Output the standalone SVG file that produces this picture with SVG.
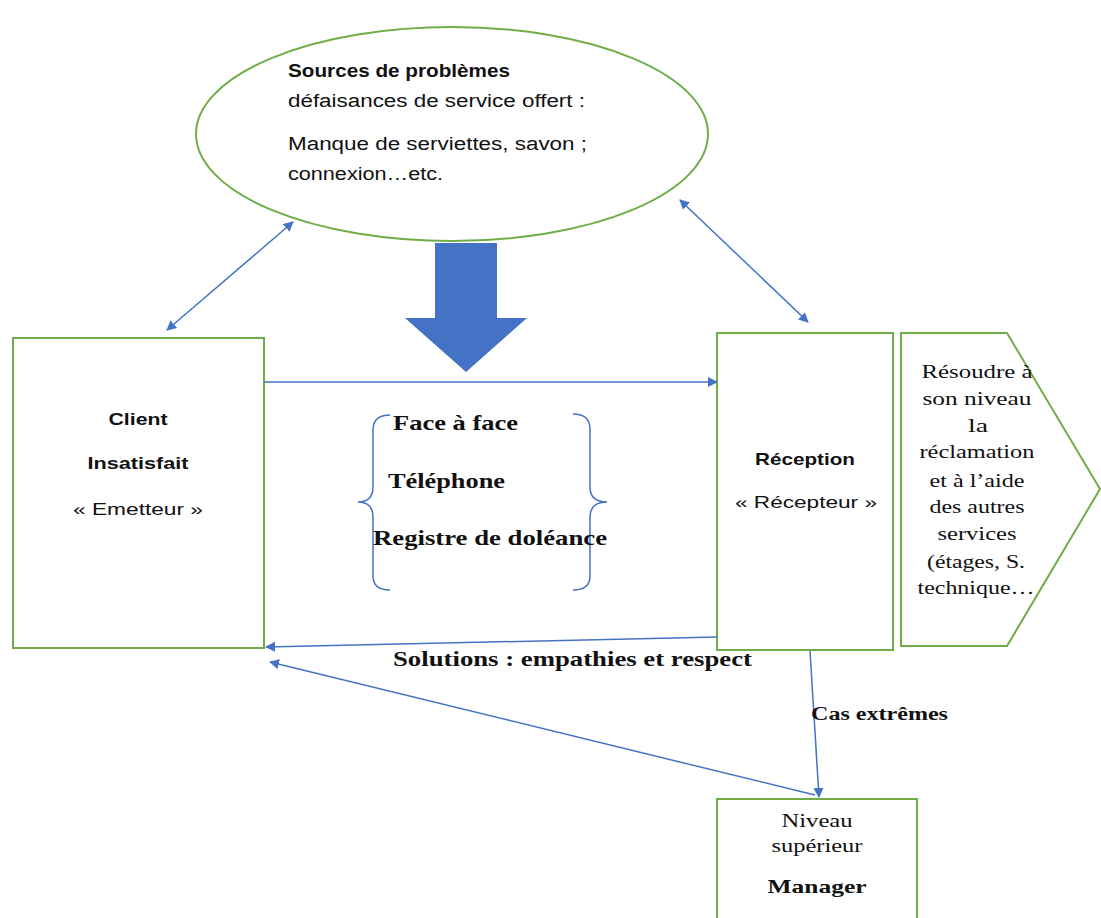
<svg xmlns="http://www.w3.org/2000/svg" width="1101" height="918" viewBox="0 0 1101 918">
<defs>
<marker id="ah" viewBox="0 0 10 10" refX="9" refY="5" markerWidth="10" markerHeight="10" markerUnits="userSpaceOnUse" orient="auto-start-reverse">
<path d="M0,0 L10,5 L0,10 z" fill="#4472C4"/>
</marker>
<style>
.box{fill:#fff;stroke:#70AD47;stroke-width:2}
.con{fill:none;stroke:#4472C4;stroke-width:1.5}
.sans{font-family:"Liberation Sans",Arial,sans-serif;fill:#111}
.serif{font-family:"Liberation Serif","Times New Roman",serif;fill:#111}
.b{font-weight:bold}
text{lengthAdjust:spacingAndGlyphs}
</style>
</defs>
<rect width="1101" height="918" fill="#fff"/>

<g id="sources">
<ellipse class="box" cx="452" cy="134" rx="256" ry="107"/>
<text class="sans b" x="288" y="77" font-size="18" textLength="222" lengthAdjust="spacingAndGlyphs">Sources de problèmes</text>
<text class="sans" x="288" y="107" font-size="18" textLength="297" lengthAdjust="spacingAndGlyphs">défaisances de service offert :</text>
<text class="sans" x="288" y="150" font-size="18" textLength="299" lengthAdjust="spacingAndGlyphs">Manque de serviettes, savon ;</text>
<text class="sans" x="288" y="180" font-size="18" textLength="155" lengthAdjust="spacingAndGlyphs">connexion…etc.</text>
</g>

<g id="bigarrow">
<polygon points="435,243 497,243 497,318 527,318 466,372 405,318 435,318" fill="#4472C4"/>
</g>

<g id="client">
<rect class="box" x="13" y="338" width="251" height="310"/>
<text class="sans b" x="138" y="425" font-size="17" text-anchor="middle" textLength="59" lengthAdjust="spacingAndGlyphs">Client</text>
<text class="sans b" x="138" y="469" font-size="17" text-anchor="middle" textLength="101" lengthAdjust="spacingAndGlyphs">Insatisfait</text>
<text class="sans" x="138" y="515" font-size="17" text-anchor="middle" textLength="130" lengthAdjust="spacingAndGlyphs">« Emetteur »</text>
</g>

<g id="reception">
<rect class="box" x="717" y="333" width="176" height="317"/>
<text class="sans b" x="805" y="465" font-size="17" text-anchor="middle" textLength="100" lengthAdjust="spacingAndGlyphs">Réception</text>
<text class="sans" x="806" y="508" font-size="17" text-anchor="middle" textLength="142" lengthAdjust="spacingAndGlyphs">« Récepteur »</text>
</g>

<g id="resoudre">
<polygon class="box" points="901,333 1007,333 1100,489 1007,646 901,646"/>
<g class="serif" font-size="19" text-anchor="middle">
<text x="977" y="378" textLength="111" lengthAdjust="spacingAndGlyphs">Résoudre à</text>
<text x="977" y="405" textLength="109" lengthAdjust="spacingAndGlyphs">son niveau</text>
<text x="978" y="432" textLength="20" lengthAdjust="spacingAndGlyphs">la</text>
<text x="977" y="458" textLength="115" lengthAdjust="spacingAndGlyphs">réclamation</text>
<text x="977" y="487" textLength="95" lengthAdjust="spacingAndGlyphs">et à l’aide</text>
<text x="977" y="513" textLength="95" lengthAdjust="spacingAndGlyphs">des autres</text>
<text x="977" y="540" textLength="79" lengthAdjust="spacingAndGlyphs">services</text>
<text x="976" y="568" textLength="98" lengthAdjust="spacingAndGlyphs">(étages, S.</text>
<text x="976" y="594" textLength="117" lengthAdjust="spacingAndGlyphs">technique…</text>
</g>
</g>

<g id="canaux">
<path class="con" d="M390,415 Q373,415 373,430 L373,487 Q373,502 358,502 Q373,502 373,517 L373,576 Q373,590 390,590"/>
<path class="con" d="M573,414 Q590,414 590,429 L590,487 Q590,502 607,502 Q590,502 590,517 L590,576 Q590,590 573,590"/>
<text class="serif b" x="393" y="430" font-size="22" textLength="125" lengthAdjust="spacingAndGlyphs">Face à face</text>
<text class="serif b" x="388" y="488" font-size="22" textLength="117" lengthAdjust="spacingAndGlyphs">Téléphone</text>
<text class="serif b" x="373" y="545" font-size="22" textLength="234" lengthAdjust="spacingAndGlyphs">Registre de doléance</text>
</g>

<g id="manager">
<rect class="box" x="717" y="799" width="200" height="130"/>
<text class="serif" x="817" y="827" font-size="18" text-anchor="middle" textLength="71" lengthAdjust="spacingAndGlyphs">Niveau</text>
<text class="serif" x="817" y="852" font-size="18" text-anchor="middle" textLength="91" lengthAdjust="spacingAndGlyphs">supérieur</text>
<text class="serif b" x="817" y="893" font-size="19" text-anchor="middle" textLength="99" lengthAdjust="spacingAndGlyphs">Manager</text>
</g>

<g id="connectors">
<line class="con" x1="264" y1="382" x2="717" y2="382" marker-end="url(#ah)"/>
<line class="con" x1="167" y1="330" x2="293" y2="222" marker-start="url(#ah)" marker-end="url(#ah)"/>
<line class="con" x1="680" y1="200" x2="808" y2="322" marker-start="url(#ah)" marker-end="url(#ah)"/>
<line class="con" x1="717" y1="637" x2="266" y2="647" marker-end="url(#ah)"/>
<line class="con" x1="815" y1="795" x2="270" y2="662" marker-end="url(#ah)"/>
<line class="con" x1="810" y1="651" x2="819" y2="797" marker-end="url(#ah)"/>
<text class="serif b" x="393" y="666" font-size="21" textLength="359" lengthAdjust="spacingAndGlyphs">Solutions : empathies et respect</text>
<text class="serif b" x="811" y="720" font-size="18" textLength="137" lengthAdjust="spacingAndGlyphs">Cas extrêmes</text>
</g>
</svg>
